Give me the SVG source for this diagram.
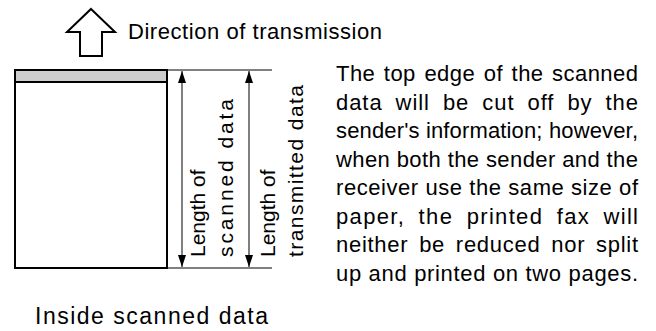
<svg xmlns="http://www.w3.org/2000/svg" width="656" height="331" viewBox="0 0 656 331">
<style>
text{font-family:"Liberation Sans",Arial,sans-serif;fill:#000}
.body{font-size:21px}
.note{font-size:22px}
.dim{stroke:#555;stroke-width:1.5;fill:none}
.ext{stroke:#000;stroke-width:1;fill:none}
</style>
<defs>
<marker id="ah" viewBox="0 0 12 8" refX="12" refY="4" markerWidth="12" markerHeight="8" markerUnits="userSpaceOnUse" orient="auto-start-reverse">
<path d="M0,0 L12,4 L0,8 Z" fill="#000"/>
</marker>
</defs>
<rect width="656" height="331" fill="#fff"/>
<g id="direction">
<polygon points="91,9 115,32 102,32 102,56 80,56 80,32 67,32" fill="#fff" stroke="#000" stroke-width="2" stroke-linejoin="miter"/>
<text x="128" y="39" font-size="22" textLength="254" lengthAdjust="spacing">Direction of transmission</text>
</g>
<g id="page">
<rect x="15" y="70" width="152" height="198" fill="#fff" stroke="#000" stroke-width="2"/>
<rect x="15" y="70" width="152" height="12" fill="#ccc" stroke="#000" stroke-width="2"/>
<text x="35" y="324" font-size="23" textLength="233" lengthAdjust="spacing">Inside scanned data</text>
</g>
<g id="connectors">
<line class="ext" x1="167" y1="70" x2="272" y2="70"/>
<line class="ext" x1="167" y1="268" x2="272" y2="268"/>
<line class="dim" x1="182" y1="71" x2="182" y2="267" marker-start="url(#ah)" marker-end="url(#ah)"/>
<line class="dim" x1="249" y1="71" x2="249" y2="267" marker-start="url(#ah)" marker-end="url(#ah)"/>
</g>
<g id="scanned-label">
<text class="body" transform="translate(205,257) rotate(-90)">Length of</text>
<text class="body" transform="translate(233,257) rotate(-90)" textLength="158" lengthAdjust="spacing">scanned data</text>
</g>
<g id="transmitted-label">
<text class="body" transform="translate(275,257) rotate(-90)">Length of</text>
<text class="body" transform="translate(303,257) rotate(-90)" textLength="172" lengthAdjust="spacing">transmitted data</text>
</g>
<g id="note" class="note">
<text x="336" y="81" word-spacing="2" textLength="302" lengthAdjust="spacing">The top edge of the scanned</text>
<text x="336" y="109.5" word-spacing="6" textLength="302" lengthAdjust="spacing">data will be cut off by the</text>
<text x="336" y="138" textLength="302" lengthAdjust="spacing">sender's information; however,</text>
<text x="336" y="166.5" textLength="302" lengthAdjust="spacing">when both the sender and the</text>
<text x="336" y="195" textLength="302" lengthAdjust="spacing">receiver use the same size of</text>
<text x="336" y="223.5" word-spacing="6" textLength="302" lengthAdjust="spacing">paper, the printed fax will</text>
<text x="336" y="252" word-spacing="4" textLength="302" lengthAdjust="spacing">neither be reduced nor split</text>
<text x="336" y="280.5" textLength="302" lengthAdjust="spacing">up and printed on two pages.</text>
</g>
</svg>
